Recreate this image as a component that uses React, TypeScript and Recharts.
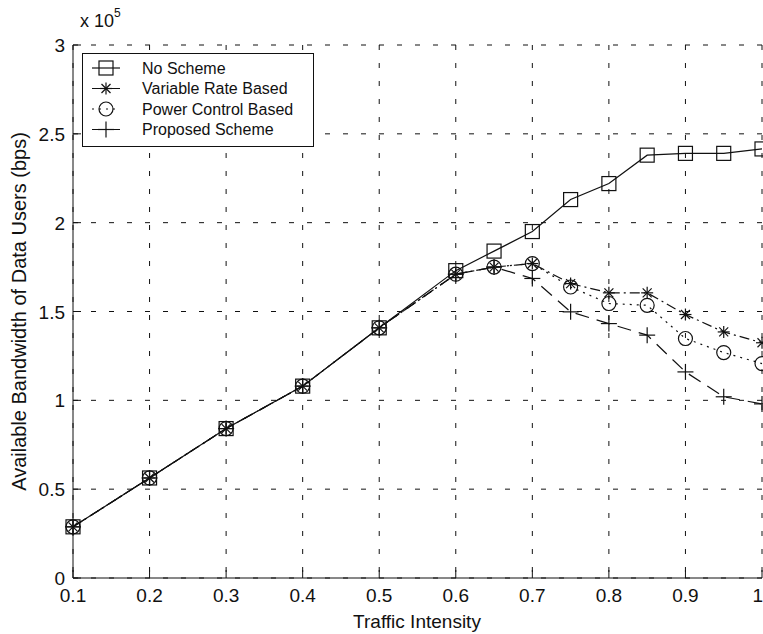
import React from 'react';
import {
  LineChart,
  Line,
  XAxis,
  YAxis,
  CartesianGrid,
  Legend
} from 'recharts';

// traffic intensity (x)
const intensity = [0.1, 0.2, 0.3, 0.4, 0.5, 0.6, 0.65, 0.7, 0.75, 0.8, 0.85, 0.9, 0.95, 1.0];

// available bandwidth, bps
const noScheme = [28800, 56300, 84100, 108000, 140800, 173000, 184000, 195000, 213000, 222000, 238000, 239000, 239000, 241500];
const variableRate = [28800, 56300, 84100, 108000, 140800, 171000, 175000, 177000, 165700, 160500, 160500, 148300, 138500, 132400];
const powerControl = [28800, 56300, 84100, 108000, 140800, 171000, 175000, 177000, 163800, 154500, 153500, 134800, 126900, 120700];
const proposed = [28800, 56300, 84100, 108000, 140800, 171000, 175000, 168600, 149800, 143200, 136700, 116000, 102000, 98000];

const xTicks = [0.1, 0.2, 0.3, 0.4, 0.5, 0.6, 0.7, 0.8, 0.9, 1];
const yTicks = [0, 50000, 100000, 150000, 200000, 250000, 300000];

const data = intensity.map((x, i) => ({
  x,
  noScheme: noScheme[i],
  variableRate: variableRate[i],
  powerControl: powerControl[i],
  proposed: proposed[i]
}));

const INK = '#111';
const FONT = '"Liberation Sans", Arial, Helvetica, sans-serif';

const fmtX = (v: number) => (v === 1 ? '1' : String(v));
const fmtY = (v: number) => String(v / 100000);

// markers
const Square = ({ cx, cy }: any) => (
  <rect x={cx - 7} y={cy - 7} width={14} height={14} fill="none" stroke={INK} strokeWidth={1.2} />
);
const Star = ({ cx, cy }: any) => (
  <g stroke={INK} strokeWidth={1.2}>
    <line x1={cx - 6} y1={cy} x2={cx + 6} y2={cy} />
    <line x1={cx} y1={cy - 6} x2={cx} y2={cy + 6} />
    <line x1={cx - 4.5} y1={cy - 4.5} x2={cx + 4.5} y2={cy + 4.5} />
    <line x1={cx - 4.5} y1={cy + 4.5} x2={cx + 4.5} y2={cy - 4.5} />
  </g>
);
const Circle = ({ cx, cy }: any) => (
  <circle cx={cx} cy={cy} r={7} fill="none" stroke={INK} strokeWidth={1.2} />
);
const Plus = ({ cx, cy }: any) => (
  <g stroke={INK} strokeWidth={1.2}>
    <line x1={cx - 8} y1={cy} x2={cx + 8} y2={cy} />
    <line x1={cx} y1={cy - 8} x2={cx} y2={cy + 8} />
  </g>
);

const dotOf = (M: any) => (p: any) => <M key={`m-${p.index}`} cx={p.cx} cy={p.cy} />;

const series = [
  { key: 'noScheme', name: 'No Scheme', dash: undefined, marker: Square },
  { key: 'variableRate', name: 'Variable Rate Based', dash: '10 4 2 4', marker: Star },
  { key: 'powerControl', name: 'Power Control Based', dash: '2 5', marker: Circle },
  { key: 'proposed', name: 'Proposed Scheme', dash: '14 8', marker: Plus }
];

// inward ticks like the original figure
const BottomTick = ({ x, y, payload }: any) => {
  const last = payload.value === 1;
  return (
    <g>
      <line x1={x} y1={y} x2={x} y2={y - 8} stroke={INK} />
      <text x={last ? x + 1 : x} y={y + 24} textAnchor={last ? 'end' : 'middle'} fontSize={19} fontFamily={FONT} fill={INK}>
        {fmtX(payload.value)}
      </text>
    </g>
  );
};
const TopTick = ({ x, y }: any) => <line x1={x} y1={y} x2={x} y2={y + 8} stroke={INK} />;
const LeftTick = ({ x, y, payload }: any) => (
  <g>
    <line x1={x} y1={y} x2={x + 8} y2={y} stroke={INK} />
    <text x={x - 8} y={y + 7} textAnchor="end" fontSize={19} fontFamily={FONT} fill={INK}>
      {fmtY(payload.value)}
    </text>
  </g>
);
const RightTick = ({ x, y }: any) => <line x1={x} y1={y} x2={x - 8} y2={y} stroke={INK} />;

const LegendBox = () => (
  <svg width={232} height={94} style={{ display: 'block' }}>
    <rect x={0.5} y={0.5} width={231} height={93} fill="#fff" stroke={INK} />
    {series.map((s, i) => {
      const cy = 15 + i * 20.5;
      const M = s.marker;
      return (
        <g key={s.key}>
          <line x1={10} y1={cy} x2={38} y2={cy} stroke={INK} strokeWidth={1.2} strokeDasharray={s.dash} />
          <M cx={24} cy={cy} />
          <text x={60} y={cy + 5.5} fontSize={16} fontFamily={FONT} fill={INK}>
            {s.name}
          </text>
        </g>
      );
    })}
  </svg>
);

export default function App() {
  return (
    <div style={{ position: 'absolute', left: 0, top: 0, width: 763, height: 634, background: '#fff' }}>
      <LineChart width={763} height={634} data={data} margin={{ top: 45, right: 1, left: 0, bottom: 0 }}>
        <CartesianGrid stroke={INK} strokeDasharray="5 13" strokeWidth={1} />
        <XAxis
          dataKey="x"
          type="number"
          domain={[0.1, 1]}
          ticks={xTicks}
          height={56}
          tickSize={0}
          tickMargin={0}
          tick={<BottomTick />}
          axisLine={{ stroke: INK }}
          tickLine={false}
          interval={0}
        />
        <XAxis
          xAxisId="top"
          orientation="top"
          dataKey="x"
          type="number"
          domain={[0.1, 1]}
          ticks={xTicks}
          height={0}
          tickSize={0}
          tickMargin={0}
          tick={<TopTick />}
          axisLine={{ stroke: INK }}
          tickLine={false}
          interval={0}
        />
        <YAxis
          type="number"
          domain={[0, 300000]}
          ticks={yTicks}
          width={73}
          tickSize={0}
          tickMargin={0}
          tick={<LeftTick />}
          axisLine={{ stroke: INK }}
          tickLine={false}
          interval={0}
          label={{
            value: 'Available Bandwidth of Data Users (bps)',
            angle: -90,
            position: 'insideLeft',
            offset: 19,
            dy: 0,
            style: { textAnchor: 'middle', fontSize: 20, fontFamily: FONT, fill: INK }
          }}
        />
        <YAxis
          yAxisId="right"
          orientation="right"
          type="number"
          domain={[0, 300000]}
          ticks={yTicks}
          width={0}
          tickSize={0}
          tickMargin={0}
          tick={<RightTick />}
          axisLine={{ stroke: INK }}
          tickLine={false}
          interval={0}
        />
        {series.map((s) => (
          <Line
            key={s.key}
            dataKey={s.key}
            name={s.name}
            type="linear"
            stroke={INK}
            strokeWidth={1.2}
            strokeDasharray={s.dash}
            dot={dotOf(s.marker)}
            activeDot={false}
            isAnimationActive={false}
          />
        ))}
        <Legend
          layout="vertical"
          align="center"
          verticalAlign="middle"
          content={<LegendBox />}
          wrapperStyle={{ position: 'absolute', left: 82, top: 53, width: 232, height: 94 }}
        />
        <text x={80} y={27} fontSize={18} fontFamily={FONT} fill={INK}>
          x 10
          <tspan dy={-10} fontSize={12}>5</tspan>
        </text>
        <text x={417} y={628} textAnchor="middle" fontSize={19} fontFamily={FONT} fill={INK}>
          Traffic Intensity
        </text>
      </LineChart>
    </div>
  );
}
